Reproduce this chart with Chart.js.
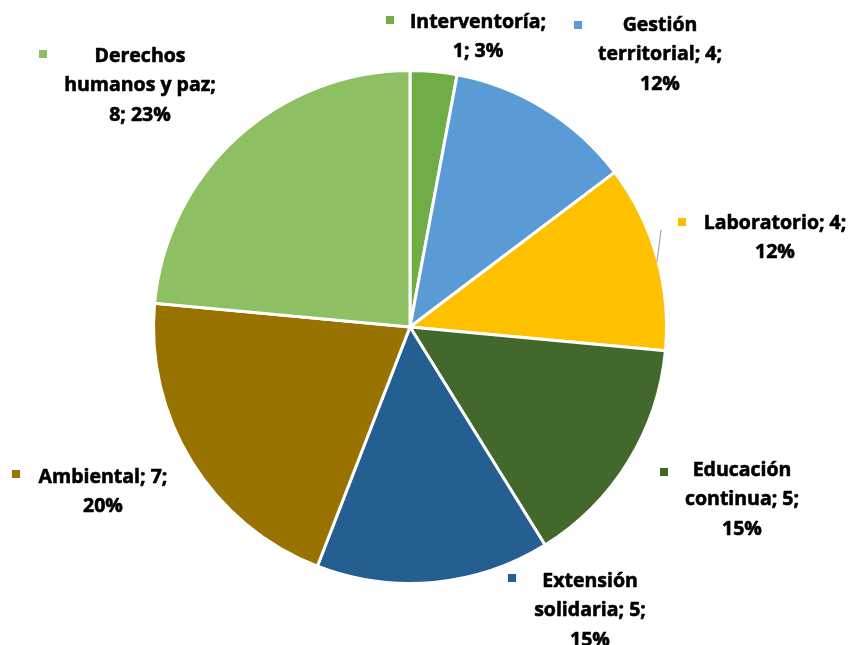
<!DOCTYPE html>
<html>
<head>
<meta charset="utf-8">
<script src="https://cdn.jsdelivr.net/npm/chart.js@4.4.1/dist/chart.umd.min.js"></script>
<style>
html,body{margin:0;padding:0;background:#fff;}
#wrap{width:853px;height:645px;position:relative;}
</style>
</head>
<body>
<div id="wrap"><canvas id="c" width="853" height="645"></canvas></div>
<script>
const categories = ["Interventoría", "Gestión territorial", "Laboratorio", "Educación continua", "Extensión solidaria", "Ambiental", "Derechos humanos y paz"];
const values = [1, 4, 4, 5, 5, 7, 8];
const percentLabels = ["3%", "12%", "12%", "15%", "15%", "20%", "23%"];
const colors = ["#70AD47", "#5B9BD5", "#FFC000", "#43682B", "#255E91", "#997300", "#8DC063"];

// label layout: line breaks and positions (styling only)
const labelLayout = [
  {lines: ["Interventoría;", "1; 3%"], cx: 478, y: 22, key: [386, 16]},
  {lines: ["Gestión", "territorial; 4;", "12%"], cx: 660, y: 25, key: [574, 21]},
  {lines: ["Laboratorio; 4;", "12%"], cx: 775, y: 223, key: [678, 218]},
  {lines: ["Educación", "continua; 5;", "15%"], cx: 742, y: 470, key: [660, 468]},
  {lines: ["Extensión", "solidaria; 5;", "15%"], cx: 590, y: 581, key: [508, 574]},
  {lines: ["Ambiental; 7;", "20%"], cx: 103, y: 477, key: [12, 470]},
  {lines: ["Derechos", "humanos y paz;", "8; 23%"], cx: 140, y: 56, key: [39, 50]}
];

const labelPlugin = {
  id: 'outerLabels',
  afterDraw(chart) {
    const ctx = chart.ctx;
    ctx.save();
    ctx.strokeStyle = '#A6A6A6';
    ctx.lineWidth = 1.2;
    ctx.beginPath();
    ctx.moveTo(661, 230);
    ctx.lineTo(657, 262);
    ctx.stroke();
    ctx.font = 'bold 19.5px "Open Sans", Lato, sans-serif';
    ctx.textAlign = 'center';
    ctx.textBaseline = 'middle';
    ctx.lineJoin = 'round';
    categories.forEach((c, i) => {
      const L = labelLayout[i];
      ctx.fillStyle = colors[i];
      ctx.fillRect(L.key[0], L.key[1], 8, 8);
      ctx.fillStyle = '#000000';
      ctx.strokeStyle = '#000000';
      ctx.lineWidth = 0.6;
      L.lines.forEach((t, k) => {
        ctx.fillText(t, L.cx, L.y + k * 29.5);
        ctx.strokeText(t, L.cx, L.y + k * 29.5);
      });
    });
    ctx.restore();
  }
};

new Chart(document.getElementById('c'), {
  type: 'pie',
  data: {
    labels: categories,
    datasets: [{
      data: values,
      backgroundColor: colors,
      borderColor: '#FFFFFF',
      borderWidth: 3,
      hoverOffset: 0
    }]
  },
  options: {
    responsive: false,
    animation: false,
    layout: {padding: {left: 152, right: 185, top: 69, bottom: 60}},
    plugins: {
      legend: {display: false},
      tooltip: {enabled: false}
    }
  },
  plugins: [labelPlugin]
});
</script>
</body>
</html>
